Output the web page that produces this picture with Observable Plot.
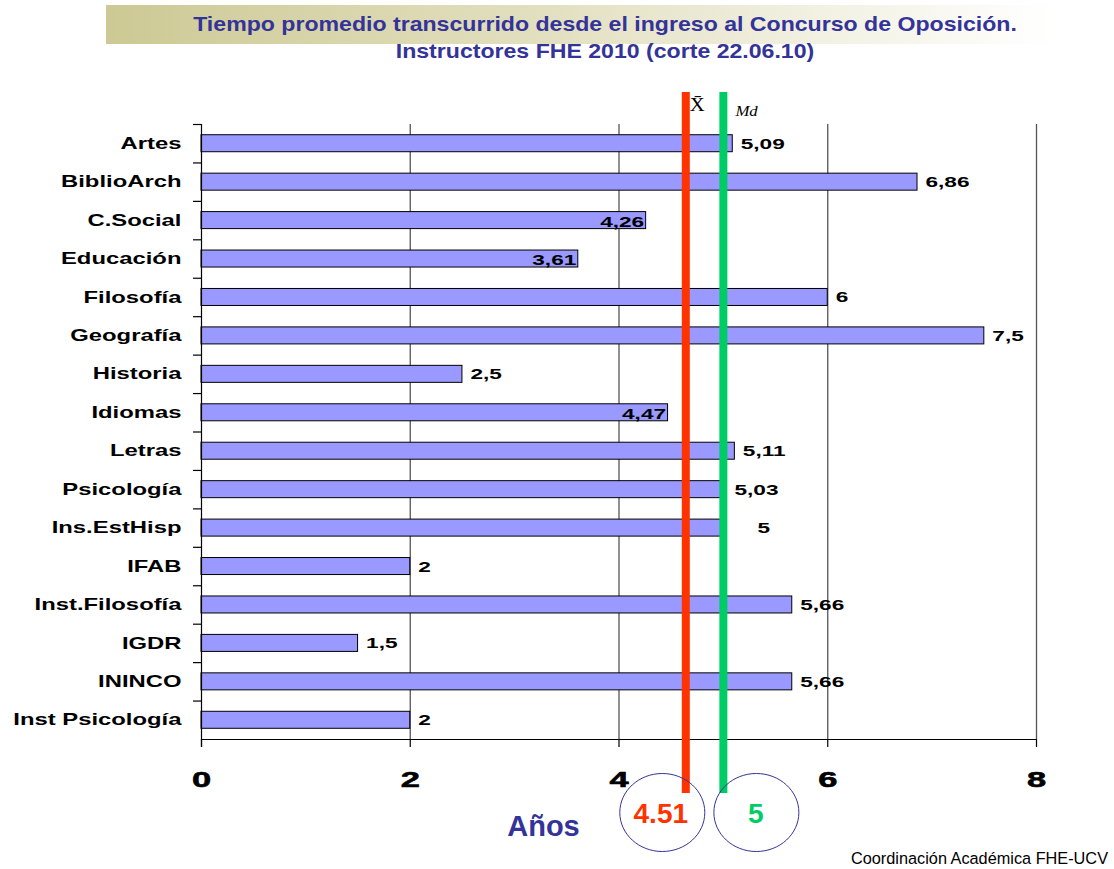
<!DOCTYPE html>
<html>
<head>
<meta charset="utf-8">
<script src="https://cdn.jsdelivr.net/npm/d3@7"></script>
<script src="https://cdn.jsdelivr.net/npm/@observablehq/plot@0.6"></script>
<style>
  html, body { margin: 0; padding: 0; background: #fff; }
  body { position: relative; width: 1114px; height: 869px; overflow: hidden; font-family: "Liberation Sans", Arial, sans-serif; }
  #banner { position: absolute; left: 106px; top: 5px; width: 950px; height: 39px;
            background: linear-gradient(to right, #cdc994 0%, #e2dfbf 45%, #ffffff 100%); }
  #title { position: absolute; left: 100px; width: 1010px; top: 10px; text-align: center;
           color: #333399; font-weight: bold; font-size: 21px; line-height: 27px;
           transform: scaleX(1.1); transform-origin: 505px 0; }
  #chart { position: absolute; left: 0; top: 75px; }
  #footer { position: absolute; right: 6px; top: 850px; font-size: 16.3px; line-height: 16px; color: #000; }
</style>
</head>
<body>
<div id="banner"></div>
<div id="title">Tiempo promedio transcurrido desde el ingreso al Concurso de Oposición.<br>Instructores FHE 2010 (corte 22.06.10)</div>
<div id="chart"></div>
<div id="footer">Coordinación Académica FHE-UCV</div>
<script>
// ---- data ----
const categories = ["Artes", "BiblioArch", "C.Social", "Educación", "Filosofía", "Geografía", "Historia", "Idiomas",
  "Letras", "Psicología", "Ins.EstHisp", "IFAB", "Inst.Filosofía", "IGDR", "ININCO", "Inst Psicología"];
const years = [5.09, 6.86, 4.26, 3.61, 6, 7.5, 2.5, 4.47, 5.11, 5.03, 5, 2, 5.66, 1.5, 5.66, 2];
const xTicks = [0, 2, 4, 6, 8];
const gridTicks = [2, 4, 6, 8];
const meanLabel = "4.51";     // media
const medianLabel = "5";      // mediana
const meanLinePos = 4.64;     // where the mean line is drawn in the picture
const medianLinePos = 5;
const axisTitle = "Años";

// label placement groups (style)
const insideLabels = new Set(["C.Social", "Educación", "Idiomas"]);
const farLabels = new Set(["Ins.EstHisp"]);

const data = categories.map((c, i) => ({cat: c, value: years[i]}));
const fmt = v => String(v).replace(".", ",");

// ---- layout ----
const W = 1114, H = 770;
const mTop = 49, mBottom = 106, mLeft = 201, mRight = 78;
const frameH = H - mTop - mBottom;
const bw = frameH / categories.length;
const barInset = (bw - 17) / 2;
const FONT = "'Liberation Sans', Arial, sans-serif";

// horizontal stretch of text glyphs (the reference text is widened)
const stretch = k => (index, scales, values, dims, ctx, next) => {
  const g = next(index, scales, values, dims, ctx);
  g.querySelectorAll("text").forEach(t => {
    const tr = t.getAttribute("transform");
    if (tr) t.setAttribute("transform", tr + ` scale(${k},1)`);
    else {
      const x = +t.getAttribute("x") || 0, y = +t.getAttribute("y") || 0;
      t.removeAttribute("x"); t.removeAttribute("y");
      t.setAttribute("transform", `translate(${x},${y}) scale(${k},1)`);
    }
  });
  return g;
};

const ellipse = {
  draw(ctx) {
    const rx = 42.5, ry = 39, kx = rx * 0.5523, ky = ry * 0.5523;
    ctx.moveTo(rx, 0);
    ctx.bezierCurveTo(rx, ky, kx, ry, 0, ry);
    ctx.bezierCurveTo(-kx, ry, -rx, ky, -rx, 0);
    ctx.bezierCurveTo(-rx, -ky, -kx, -ry, 0, -ry);
    ctx.bezierCurveTo(kx, -ry, rx, -ky, rx, 0);
    ctx.closePath();
  }
};

const chart = Plot.plot({
  width: W, height: H,
  marginTop: mTop, marginBottom: mBottom, marginLeft: mLeft, marginRight: mRight,
  style: {fontFamily: FONT, background: "transparent", overflow: "visible"},
  x: {domain: [0, 8], axis: null},
  y: {domain: categories, padding: 0, round: false, axis: null},
  marks: [
    // grid
    Plot.ruleX(gridTicks, {stroke: "#555", strokeWidth: 1.3}),
    // bars
    Plot.barX(data, {x: "value", y: "cat", fill: "#9999ff", stroke: "#000", strokeWidth: 1,
      insetTop: barInset, insetBottom: barInset}),
    // axes lines
    Plot.ruleX([0], {stroke: "#000", strokeWidth: 1.2, insetBottom: -8}),
    Plot.ruleY([categories[categories.length - 1]], {y: d => d, dy: bw / 2, stroke: "#000", strokeWidth: 1.2}),
    // y ticks at category boundaries
    Plot.ruleY(categories, {y: d => d, x1: 0, x2: 0, insetLeft: -8, dy: -bw / 2, stroke: "#000", strokeWidth: 1.2}),
    // x ticks
    Plot.ruleX(xTicks, {insetTop: frameH, insetBottom: -8, stroke: "#000", strokeWidth: 1.2}),
    // x tick labels
    Plot.text(xTicks, {x: d => d, frameAnchor: "bottom", dy: 47, fontSize: 23, fontWeight: "bold",
      fill: "#000", stroke: "#000", strokeWidth: 0.6, render: stretch(1.5)}),
    // y labels
    Plot.text(categories, {y: d => d, frameAnchor: "left", textAnchor: "end", dx: -20, fontSize: 16,
      fontWeight: "bold", fill: "#000", render: stretch(1.49)}),
    // mean / median lines
    Plot.ruleX([meanLinePos], {stroke: "#ff3300", strokeWidth: 8, insetTop: -32, insetBottom: -54}),
    Plot.ruleX([medianLinePos], {stroke: "#00cc66", strokeWidth: 8, insetTop: -32, insetBottom: -54}),
    // value labels
    Plot.text(data.filter(d => !insideLabels.has(d.cat) && !farLabels.has(d.cat)),
      {x: "value", y: "cat", text: d => fmt(d.value), textAnchor: "start", dx: 8, fontSize: 15.5,
       fontWeight: "bold", fill: "#000", render: stretch(1.46)}),
    Plot.text(data.filter(d => insideLabels.has(d.cat)),
      {x: "value", y: "cat", text: d => fmt(d.value), textAnchor: "end", dx: -2, dy: 1, fontSize: 15.5,
       fontWeight: "bold", fill: "#000", render: stretch(1.46)}),
    Plot.text(data.filter(d => farLabels.has(d.cat)),
      {x: "value", y: "cat", text: d => fmt(d.value), textAnchor: "start", dx: 34, fontSize: 15.5,
       fontWeight: "bold", fill: "#000", render: stretch(1.46)}),
    // line symbols
    Plot.text([meanLinePos], {x: d => d, text: () => "X\u0304", frameAnchor: "top", textAnchor: "start",
      dx: 4, dy: -26, fontSize: 18, fontFamily: "'Liberation Serif', 'DejaVu Serif', serif", fill: "#000",
      render: stretch(1.15)}),
    Plot.text([medianLinePos], {x: d => d, text: () => "Md", frameAnchor: "top", textAnchor: "start",
      dx: 12, dy: -18, fontSize: 14, fontStyle: "italic", fontFamily: "'Liberation Serif', 'DejaVu Serif', serif",
      fill: "#000", render: stretch(1.2)}),
    // ellipses + values
    Plot.dot([meanLinePos], {x: d => d, frameAnchor: "bottom", dx: -23.5, dy: 73, symbol: ellipse,
      stroke: "#333399", strokeWidth: 1, fill: "none"}),
    Plot.dot([medianLinePos], {x: d => d, frameAnchor: "bottom", dx: 33, dy: 73, symbol: ellipse,
      stroke: "#333399", strokeWidth: 1, fill: "none"}),
    Plot.text([meanLinePos], {x: d => d, text: () => meanLabel, frameAnchor: "bottom", dx: -25, dy: 83,
      fontSize: 28, fontWeight: "bold", fill: "#ff3300"}),
    Plot.text([medianLinePos], {x: d => d, text: () => medianLabel, frameAnchor: "bottom", dx: 32.5, dy: 83,
      fontSize: 28, fontWeight: "bold", fill: "#00cc66"}),
    // axis title
    Plot.text([axisTitle], {frameAnchor: "bottom", dx: -75.5, dy: 96, fontSize: 29, fontWeight: "bold",
      fill: "#333399"})
  ]
});
document.getElementById("chart").appendChild(chart);
</script>
</body>
</html>
